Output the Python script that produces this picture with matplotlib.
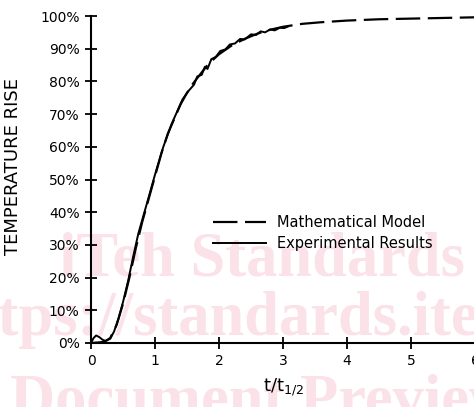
import matplotlib
matplotlib.use("Agg")
import matplotlib.pyplot as plt

# Mathematical model (dashed curve), t/t1/2 vs. temperature rise in %
t_modelo = [0.0, 0.2, 0.3, 0.4, 0.5, 0.6, 0.7, 0.8, 0.9, 1.0, 1.1, 1.2, 1.3, 1.4,
            1.5, 1.6, 1.7, 1.8, 1.9, 2.0, 2.2, 2.4, 2.6, 2.8, 3.0, 3.3, 3.6, 4.0,
            4.5, 5.0, 5.5, 6.0]
y_modelo = [0.0, 0.3, 1.5, 5.5, 12.0, 20.0, 29.0, 37.0, 44.0, 51.0, 58.0, 64.0,
            68.5, 73.0, 76.5, 79.5, 82.0, 84.5, 86.5, 88.3, 91.0, 93.0, 94.6,
            95.8, 96.7, 97.6, 98.1, 98.6, 99.0, 99.2, 99.4, 99.6]

# Experimental results (solid curve)
t_exp = [0.0, 0.04, 0.08, 0.13, 0.18, 0.23, 0.3, 0.36, 0.43, 0.5, 0.58, 0.66,
         0.74, 0.82, 0.9, 1.0, 1.13, 1.26, 1.43, 1.52, 1.61, 1.66, 1.73, 1.78,
         1.82, 1.88, 1.95, 2.02, 2.1, 2.17, 2.25, 2.33, 2.4, 2.5, 2.58, 2.65,
         2.72, 2.8, 2.87, 2.95, 3.02, 3.08]
y_exp = [0.0, 1.5, 2.3, 1.8, 1.0, 0.6, 1.3, 3.5, 7.5, 12.5, 19.0, 26.5, 33.5,
         39.0, 44.5, 51.5, 60.0, 67.0, 74.5, 77.0, 79.0, 81.5, 82.0, 84.5, 83.8,
         86.8, 87.5, 89.3, 89.8, 91.3, 91.6, 93.0, 92.8, 94.4, 94.2, 95.3, 95.0,
         95.9, 95.6, 96.4, 96.3, 96.8]

x_ticks = [0, 1, 2, 3, 4, 5, 6]
y_ticks = [0, 10, 20, 30, 40, 50, 60, 70, 80, 90, 100]

plt.rcParams['font.family'] = ['DejaVu Sans']

fig = plt.figure(figsize=(4.74, 4.07), dpi=100)

# marca de agua rosa detras de la grafica
rosa = '#fae2e8'
fig.text(59 / 474, 132 / 407, 'iTeh Standards', family='Liberation Serif',
         weight='bold', fontsize=45, color=rosa, zorder=-5)
fig.text(-58 / 474, 72 / 407, 'https://standards.iteh.ai', family='Liberation Serif',
         weight='bold', fontsize=45, color=rosa, zorder=-5)
fig.text(10 / 474, -11 / 407, 'Document Preview', family='Liberation Serif',
         weight='bold', fontsize=45, color=rosa, zorder=-5)

ax = fig.add_axes([91 / 474, 64 / 407, 384 / 474, 327 / 407])
ax.patch.set_visible(False)

ax.plot(t_modelo, y_modelo, color='black', linewidth=1.6, dashes=(11, 3.4),
        label='Mathematical Model')
ax.plot(t_exp, y_exp, color='black', linewidth=1.4, label='Experimental Results')

ax.set_xlim(0, 6)
ax.set_ylim(0, 100)
ax.set_xticks(x_ticks)
ax.set_yticks(y_ticks)
ax.set_yticklabels([f'{v}%' for v in y_ticks])

ax.spines['top'].set_visible(False)
ax.spines['right'].set_visible(False)
ax.spines['left'].set_linewidth(1.5)
ax.spines['bottom'].set_linewidth(1.5)
ax.tick_params(axis='both', direction='inout', length=8.5, width=1.3,
               labelsize=10, pad=4)

ax.set_xlabel(r'$\mathregular{t/t_{1/2}}$', fontsize=13, labelpad=6)
ax.set_ylabel('TEMPERATURE RISE', fontsize=13)
ax.yaxis.set_label_coords(-0.18, 0.54)

ax.legend(loc='upper left', bbox_to_anchor=(206 / 474, 1 - 208 / 407),
          bbox_transform=fig.transFigure, frameon=False, fontsize=10.5,
          handlelength=3.6, handletextpad=0.75, labelspacing=0.4, borderpad=0)

fig.savefig('out.png', dpi=100)
